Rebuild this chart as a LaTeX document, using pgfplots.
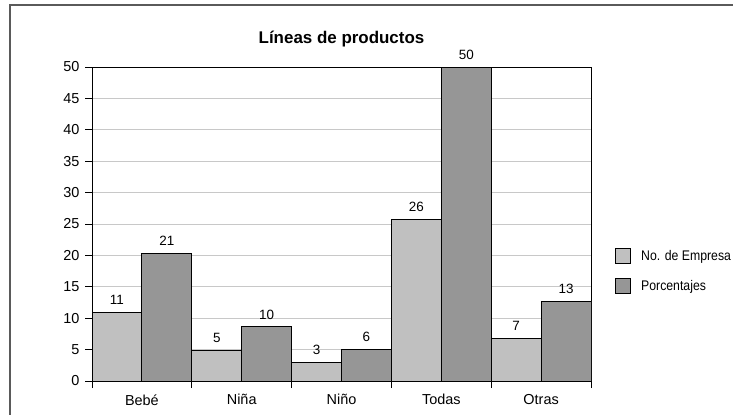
\documentclass[border=0pt]{standalone}
\usepackage{fontspec}
\setmainfont{Liberation Sans}
\newfontfamily\legfont{Liberation Sans}[FakeStretch=0.88]
\usepackage{pgfplots}
\usepackage{pgfplotstable}
\pgfplotsset{compat=1.18}
\definecolor{lightbar}{HTML}{C0C0C0}
\definecolor{darkbar}{HTML}{969696}
\definecolor{gridc}{HTML}{C8C8C8}
\definecolor{framec}{HTML}{5A5A5A}
\pgfplotstableread{
x y lab
0 10.9 11
1 4.9 5
2 2.9 3
3 25.7 26
4 6.8 7
}\empresas
\pgfplotstableread{
x y lab
0 20.3 21
1 8.6 10
2 5.0 6
3 50 50
4 12.7 13
}\porcentajes
\begin{document}
\begin{tikzpicture}[x=1bp,y=1bp]
\useasboundingbox (0,0) rectangle (733,414);
\clip (0,0) rectangle (733,414);
\fill[white] (0,0) rectangle (733,414);
\draw[line width=1.6bp, framec] (10,-10) -- (10,409) -- (760,409);
\begin{axis}[
  at={(92bp,33bp)}, anchor=south west, scale only axis,
  width=499bp, height=314bp,
  xmin=-0.5, xmax=4.5, ymin=0, ymax=50,
  ybar=0pt, bar width=0.5,
  xtick={-0.5,0.5,...,4.5}, xticklabels={},
  extra x ticks={0,1,2,3,4},
  extra x tick labels={Bebé,Niña,Niño,Todas,Otras},
  extra x tick style={major tick length=0pt, xticklabel style={yshift=-10bp}},
  ytick={0,5,...,50},
  ymajorgrids, grid style={gridc, line width=1bp},
  tick align=outside, tick pos=left,
  major tick length=7bp,
  tick style={black, line width=1bp},
  axis line style={black, line width=1bp},
  /pgf/number format/assume math mode=true,
  ticklabel style={font=\fontsize{14.5}{17}\selectfont, text=black},
  yticklabel style={xshift=-2bp},
  title={Líneas de productos},
  title style={font=\bfseries\fontsize{17}{20}\selectfont, anchor=base, at={(0.5,1)}, yshift=18bp},
  nodes near coords, point meta=explicit symbolic,
  every node near coord/.append style={font=\fontsize{13.5}{16}\selectfont, text=black, yshift=4bp},
  legend style={at={(1.048,0.35)}, anchor=west, draw=none, fill=none, inner sep=0pt,
    font=\legfont\fontsize{14}{17}\selectfont, row sep=14bp, column sep=8bp},
  legend cell align=left,
  legend image code/.code={\draw[#1, line width=1bp] (0bp,-7.5bp) rectangle (15bp,7.5bp);},
]
\addplot[fill=lightbar, draw=black, line width=1bp] table[x=x, y=y, meta=lab] {\empresas};
\addlegendentry{No. de Empresa}
\addplot[fill=darkbar, draw=black, line width=1bp] table[x=x, y=y, meta=lab] {\porcentajes};
\addlegendentry{Porcentajes}
\end{axis}
\end{tikzpicture}
\end{document}
